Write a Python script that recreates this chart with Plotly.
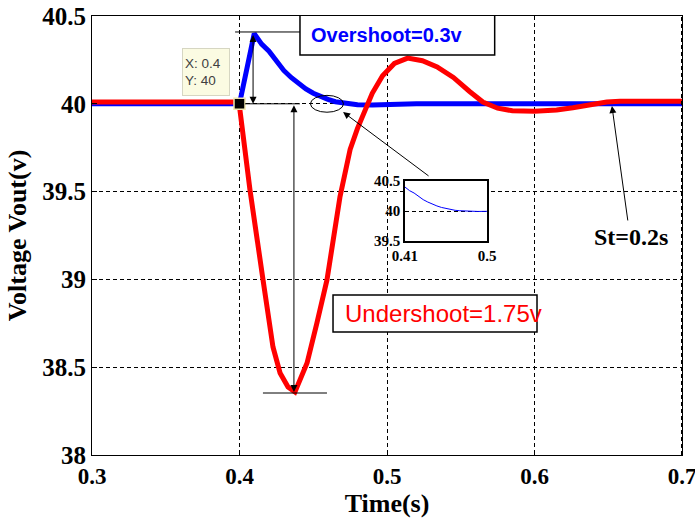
import plotly.graph_objects as go

# ---------------- data ----------------
time_blue = [0.30, 0.40, 0.4025, 0.405, 0.4075, 0.41, 0.4125, 0.415, 0.42, 0.425,
             0.43, 0.435, 0.44, 0.445, 0.45, 0.455, 0.46, 0.465, 0.47, 0.48,
             0.49, 0.50, 0.52, 0.70]
volt_blue = [40.0, 40.0, 40.10, 40.20, 40.30, 40.40, 40.37, 40.34, 40.30, 40.24,
             40.19, 40.15, 40.115, 40.085, 40.06, 40.04, 40.025, 40.012, 40.005, 39.995,
             39.993, 39.995, 40.0, 40.0]

time_red = [0.30, 0.40, 0.4003, 0.4071, 0.4159, 0.4227, 0.4275, 0.4329, 0.4376,
            0.4458, 0.4525, 0.4593, 0.4681, 0.475, 0.48, 0.485, 0.49, 0.497,
            0.505, 0.514, 0.524, 0.534, 0.545, 0.556, 0.565, 0.575, 0.585,
            0.60, 0.615, 0.626, 0.64, 0.649, 0.658, 0.70]
volt_red = [40.01, 40.01, 39.965, 39.51, 39.0, 38.615, 38.467, 38.387, 38.359,
            38.524, 38.752, 38.997, 39.469, 39.74, 39.86, 39.96, 40.06, 40.16,
            40.23, 40.26, 40.245, 40.21, 40.15, 40.07, 40.01, 39.975, 39.96,
            39.958, 39.965, 39.978, 39.997, 40.01, 40.015, 40.015]

x_ticks = [0.3, 0.4, 0.5, 0.6, 0.7]
x_tick_labels = ["0.3", "0.4", "0.5", "0.6", "0.7"]
y_ticks = [38, 38.5, 39, 39.5, 40, 40.5]
y_tick_labels = ["38", "38.5", "39", "39.5", "40", "40.5"]

inset_x_ticks = [0.41, 0.5]
inset_x_labels = ["0.41", "0.5"]
inset_y_ticks = [39.5, 40, 40.5]
inset_y_labels = ["39.5", "40", "40.5"]

datatip_x, datatip_y = 0.4, 40.0
settling_time_tip = (0.6525, 39.987)

# ---------------- figure ----------------
SERIF = "Liberation Serif, Times New Roman, serif"
SANS = "Liberation Sans, Arial, sans-serif"

fig = go.Figure()
fig.add_trace(go.Scatter(x=time_blue, y=volt_blue, mode="lines",
                         line=dict(color="#0000ff", width=5), hoverinfo="skip"))
fig.add_trace(go.Scatter(x=time_red, y=volt_red, mode="lines",
                         line=dict(color="#ff0000", width=5), hoverinfo="skip"))
fig.add_trace(go.Scatter(x=[datatip_x], y=[datatip_y], mode="markers",
                         marker=dict(symbol="square", size=11, color="black",
                                     line=dict(color="#efe6b0", width=1.5)),
                         hoverinfo="skip"))

# inset: zoomed blue response
inset_t = [t for t in time_blue if 0.41 <= t <= 0.5]
inset_v = [v for t, v in zip(time_blue, volt_blue) if 0.41 <= t <= 0.5]
fig.add_trace(go.Scatter(x=inset_t, y=inset_v, mode="lines", xaxis="x2", yaxis="y2",
                         line=dict(color="#0000ff", width=1), hoverinfo="skip"))

grid = dict(showgrid=True, gridcolor="black", gridwidth=1, griddash="4px,3px",
            zeroline=False, showline=True, linecolor="black", linewidth=1,
            mirror=True, ticks="inside", ticklen=5, tickcolor="black",
            automargin=False, ticklabeloverflow="allow")

fig.update_layout(
    width=695, height=518,
    margin=dict(l=92, r=13, t=16, b=63),
    paper_bgcolor="white", plot_bgcolor="white",
    showlegend=False,
    xaxis=dict(range=[0.3, 0.7], tickvals=x_ticks, ticktext=x_tick_labels,
               tickfont=dict(family=SERIF, size=23, color="black", weight="bold"),
               title=dict(text="<b>Time(s)</b>", standoff=4,
                          font=dict(family=SERIF, size=26, color="black")),
               **grid),
    yaxis=dict(range=[38, 40.5], tickvals=y_ticks, ticktext=y_tick_labels,
               tickfont=dict(family=SERIF, size=25, color="black", weight="bold"),
               title=dict(text="<b>Voltage Vout(v)</b>", standoff=8,
                          font=dict(family=SERIF, size=26, color="black")),
               **grid),
    xaxis2=dict(domain=[0.5305, 0.6695], anchor="y2", range=[0.41, 0.5],
                tickvals=inset_x_ticks, ticktext=inset_x_labels,
                tickfont=dict(family=SERIF, size=15, color="black", weight="bold"),
                showgrid=False, zeroline=False, showline=True, linecolor="black",
                linewidth=1.5, mirror=True, ticks="inside", ticklen=2, tickcolor="black",
                automargin=False),
    yaxis2=dict(domain=[0.4875, 0.624], anchor="x2", range=[39.5, 40.5],
                tickvals=inset_y_ticks, ticktext=inset_y_labels,
                tickfont=dict(family=SERIF, size=15, color="black", weight="bold"),
                showgrid=True, gridcolor="black", gridwidth=1, griddash="4px,3px",
                zeroline=False, showline=True, linecolor="black",
                linewidth=1.5, mirror=True, ticks="inside", ticklen=2, tickcolor="black",
                automargin=False),
)

# ---------------- annotations ----------------
peak_i = max(range(len(volt_blue)), key=lambda i: volt_blue[i])
peak_t, peak_v = time_blue[peak_i], volt_blue[peak_i]
min_i = min(range(len(volt_red)), key=lambda i: volt_red[i])
min_t, min_v = time_red[min_i], volt_red[min_i]


def arrow(x, y, ax, ay, both=False):
    d = dict(x=x, y=y, ax=ax, ay=ay, xref="x", yref="y", axref="x", ayref="y",
             text="", showarrow=True, arrowhead=2, arrowsize=1.4, arrowwidth=1,
             arrowcolor="black", standoff=0, startstandoff=0)
    if both:
        d.update(arrowside="end+start", startarrowhead=2, startarrowsize=1.4)
    return d


annotations = [
    # overshoot double arrow
    arrow(peak_t - 0.0008, 40.0, peak_t - 0.0008, peak_v, both=True),
    # undershoot double arrow
    arrow(min_t - 0.0007, min_v, min_t - 0.0007, 40.0, both=True),
    # arrow from inset to ellipse
    arrow(0.4702, 39.953, 0.5292, 39.583),
    # settling time arrow
    arrow(settling_time_tip[0], settling_time_tip[1], 0.6634, 39.327),
    dict(x=0.5003, y=40.392, xref="x", yref="y", text="<b>Overshoot=0.3v</b>", showarrow=False,
         font=dict(family=SANS, size=20, color="#0000ff")),
    dict(x=0.5383, y=38.806, xref="x", yref="y", text="Undershoot=1.75v", showarrow=False,
         font=dict(family=SANS, size=24, color="#ff0000")),
    dict(x=0.6654, y=39.241, xref="x", yref="y", text="<b>St=0.2s</b>", showarrow=False,
         font=dict(family=SERIF, size=24, color="black")),
    dict(x=0.3776, y=40.181, xref="x", yref="y", text="X: 0.4<br>Y: 40", showarrow=False,
         align="left", width=42, height=42, borderpad=2,
         bgcolor="#fbfbe2", bordercolor="#d6d6c2", borderwidth=1,
         font=dict(family=SANS, size=13.5, color="#404040")),
]
fig.update_layout(annotations=annotations)

shapes = [
    # overshoot reference line at peak
    dict(type="line", xref="x", yref="y", x0=0.397, x1=0.4444, y0=peak_v + 0.009,
         y1=peak_v + 0.009, line=dict(color="black", width=1)),
    # steady-state reference line
    dict(type="line", xref="x", yref="y", x0=0.4037, x1=0.441, y0=40.0, y1=40.0,
         line=dict(color="black", width=1)),
    # undershoot bottom line
    dict(type="line", xref="x", yref="y", x0=0.4159, x1=0.4593, y0=min_v - 0.006,
         y1=min_v - 0.006, line=dict(color="black", width=1)),
    # ellipse
    dict(type="circle", xref="x", yref="y", x0=0.4481, x1=0.4705, y0=39.952, y1=40.048,
         line=dict(color="black", width=1)),
    # overshoot box
    dict(type="rect", xref="x", yref="y", x0=0.441, x1=0.573, y0=40.278, y1=40.506,
         line=dict(color="black", width=1.5), fillcolor="white", layer="above"),
    # undershoot box
    dict(type="rect", xref="x", yref="y", x0=0.4634, x1=0.6017, y0=38.7005, y1=38.911,
         line=dict(color="black", width=1.5), fillcolor="white", layer="above"),
    # dashed right frame edge
    dict(type="line", xref="paper", yref="paper", x0=1, x1=1, y0=0, y1=1,
         line=dict(color="black", width=2, dash="4px,3px")),
]
fig.update_layout(shapes=shapes)

fig.write_html("out.html")
